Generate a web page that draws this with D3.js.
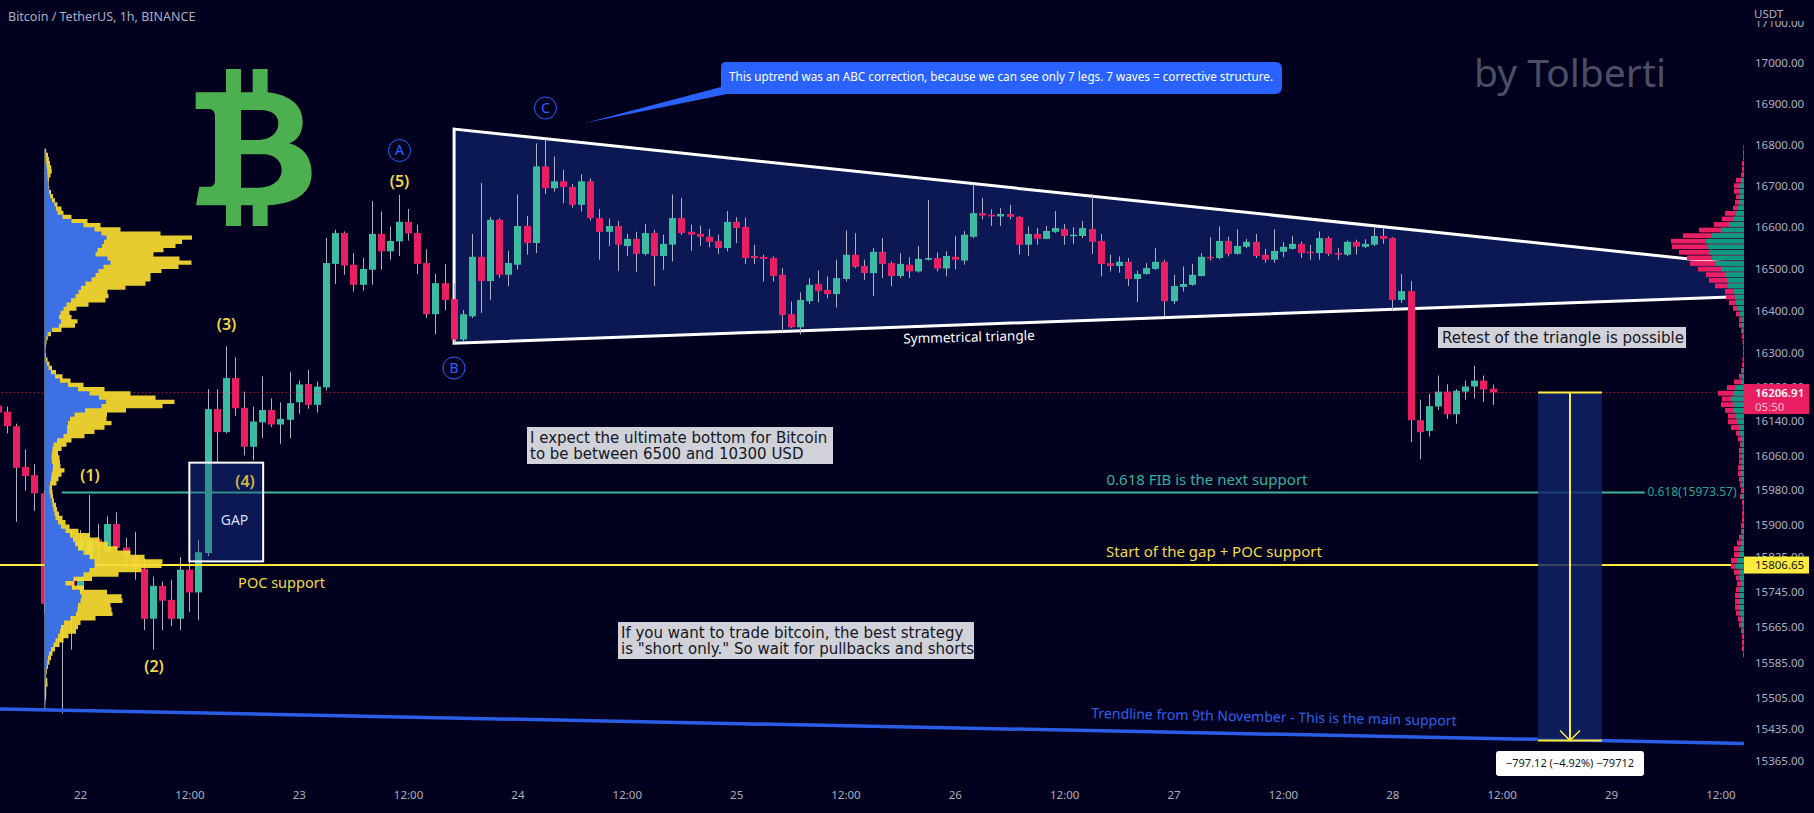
<!DOCTYPE html>
<html lang="en">
<head>
    <meta charset="utf-8">
    <title>Bitcoin / TetherUS 1h</title>
    <script src="https://d3js.org/d3.v7.min.js"></script>
    <style>
        html, body { margin: 0; padding: 0; background: #01011f; overflow: hidden; }
        text { font-family: "Noto Sans", sans-serif; }
    </style>
</head>
<body>
    <div id="chart-container"></div>

    <script>
        // hourly candles, hour 0 = the 22nd 00:00
        const candleHours = d3.range(-9, 156);
        const opens = [
            16176,16162,16128,16033,16014,15972,15721,15725,15871,15748,15806,15865,15837,
            15901,15847,15825,15798,15684,15759,15727,15684,15796,15744,15834,16168,16114,
            16241,16171,16080,16137,16166,16132,16143,16184,16227,16178,16219,16512,16586,
            16510,16462,16498,16584,16542,16566,16613,16586,16514,16392,16466,16428,16332,
            16387,16529,16471,16618,16486,16510,16603,16562,16747,16694,16711,16697,16654,
            16711,16622,16589,16603,16555,16572,16536,16586,16531,16558,16622,16589,16584,
            16577,16567,16550,16613,16601,16531,16529,16526,16486,16392,16361,16423,16464,
            16450,16440,16476,16534,16507,16490,16541,16514,16483,16510,16494,16522,16526,
            16501,16529,16520,16577,16634,16630,16626,16632,16625,16558,16584,16572,16589,
            16596,16579,16579,16596,16567,16514,16507,16517,16476,16488,16500,16517,16423,
            16457,16462,16483,16529,16526,16567,16536,16553,16565,16534,16522,16541,16548,
            16560,16541,16538,16574,16538,16534,16565,16553,16558,16579,16574,16426,16447,
            16142,16117,16174,16209,16156,16209,16221,16235,16216
        ];
        const highs = [
            16188,16174,16134,16074,16040,15979,15817,15871,15887,15887,15968,15901,15919,
            15928,15869,15883,15822,15780,15769,15773,15825,15813,15864,16215,16215,16316,
            16290,16209,16174,16245,16193,16184,16255,16235,16260,16233,16574,16594,16590,
            16538,16526,16663,16638,16602,16678,16644,16606,16547,16488,16511,16466,16402,
            16584,16707,16625,16622,16543,16679,16627,16803,16813,16771,16739,16704,16728,
            16718,16644,16621,16615,16584,16589,16608,16594,16582,16679,16671,16606,16604,
            16596,16582,16639,16624,16623,16558,16534,16530,16502,16422,16444,16478,16496,
            16482,16522,16592,16586,16522,16550,16574,16518,16538,16528,16555,16666,16539,
            16542,16579,16591,16702,16671,16643,16646,16654,16627,16602,16598,16603,16639,
            16608,16600,16615,16680,16584,16534,16530,16526,16496,16514,16550,16522,16486,
            16506,16512,16538,16576,16602,16577,16595,16572,16584,16548,16595,16564,16579,
            16566,16558,16590,16578,16550,16568,16570,16571,16598,16598,16576,16488,16471,
            16190,16204,16247,16226,16215,16235,16270,16247,16226
        ];
        const lows = [
            16141,16111,15906,15978,15931,15697,15632,15470,15614,15725,15783,15803,15833,
            15840,15802,15773,15658,15614,15658,15667,15658,15699,15681,15827,16044,16111,
            16152,16060,16049,16100,16126,16087,16100,16157,16169,16160,16212,16464,16486,
            16446,16448,16462,16498,16522,16531,16568,16487,16383,16344,16402,16323,16328,
            16383,16395,16426,16479,16459,16498,16534,16538,16680,16686,16658,16647,16638,
            16616,16522,16555,16495,16531,16493,16532,16459,16498,16518,16582,16543,16555,
            16552,16536,16542,16562,16512,16512,16470,16470,16350,16359,16344,16416,16420,
            16430,16408,16470,16502,16474,16435,16478,16459,16478,16478,16491,16520,16494,
            16482,16499,16510,16574,16619,16603,16603,16619,16534,16531,16558,16571,16586,
            16558,16560,16574,16536,16482,16494,16491,16459,16421,16486,16498,16387,16416,
            16446,16460,16482,16520,16523,16530,16534,16550,16526,16515,16515,16528,16546,
            16526,16522,16522,16531,16522,16531,16534,16550,16555,16560,16402,16419,16091,
            16051,16104,16166,16145,16134,16190,16193,16185,16178
        ];
        const closes = [
            16160,16128,16031,16012,15972,15718,15802,15794,15736,15864,15864,15850,15901,
            15846,15829,15802,15684,15759,15725,15684,15796,15744,15836,16168,16114,16241,
            16170,16080,16139,16166,16132,16145,16182,16226,16178,16221,16514,16586,16508,
            16462,16500,16584,16542,16567,16613,16585,16512,16392,16466,16426,16332,16392,
            16529,16471,16618,16486,16514,16603,16562,16747,16694,16711,16697,16654,16711,
            16622,16589,16603,16558,16572,16536,16586,16531,16560,16622,16586,16582,16577,
            16565,16550,16613,16598,16526,16526,16524,16483,16390,16361,16426,16462,16447,
            16440,16478,16534,16505,16490,16541,16512,16483,16512,16494,16524,16526,16501,
            16531,16522,16582,16634,16628,16626,16632,16625,16558,16584,16572,16591,16598,
            16579,16582,16598,16565,16512,16507,16517,16476,16488,16502,16517,16423,16459,
            16464,16486,16529,16526,16567,16536,16555,16565,16531,16522,16543,16553,16560,
            16538,16538,16574,16536,16534,16565,16553,16560,16579,16572,16426,16447,16142,
            16114,16175,16209,16156,16211,16221,16235,16214,16207
        ];

        // left volume profile, one row every 10 USD from 16790 down
        const profilePrices = d3.range(16790, 15470, -10);
        const profileTotal = [
            0.5,3,4,5,6,7.5,7,5,4,4.5,5,8,9,12,14,20,18,36,50,62,90,142,153,122,140,98,120,150,144,124,110,102,110,
            92,70,56,72,50,38,26,24,30,36,25,9,4,2.5,1.5,1,1,2,4,6,9,14,22,30,48,72,100,122,138,98,65,60,64,70,50,50,
            30,24,20,14,13,17,14,18,22,12,16,8,7,9,8,11,12,13,16,20,22,28,40,50,60,66,80,92,108,128,106,88,60,35,24,
            55,70,84,72,60,74,62,40,32,35,28,20,18,12,9,7,6,4,3,2,1.5,4,2,1.5,2,1,1,0.5
        ];
        const profileUp = [
            0.3,1,1,1.5,2,2.5,3,3,3.5,4,4,5,6,9,11,12,14,22,32,46,54,60,64,55,60,46,56,70,62,56,52,50,44,
            38,35,33,29,24,20,18,14,15,18,11,4,2,1.5,0.5,0.5,0.5,1,1.5,3,5,8,13,18,29,38,52,57,66,48,33,27,24,23,22,23,
            15,10,8,8,7,7,8,9,7,7,6,5,5,5,7,8,8,10,10,12,15,18,24,27,30,31,36,42,48,52,48,42,36,22,20,
            35,36,38,34,33,33,30,22,17,16,15,12,10,8,5,4,3,2.5,2,1.5,1,1,0.5,0.5,0.5,0.5,0.5,0.3
        ];

        // right volume profile rows, top to bottom
        const rowTotal = [
            0.5,1,1,2,2,3,8,10,10,8,9,11,19,22,30,45,61,73,72,65,57,54,46,38,35,29,19,18,15,11,8,5,5,3,2,1.5,1,1,1.5,2,3,5,10,17,26,
            22,23,19,16,16,13,8,6,4,5,5,5,6,6,5,4,3,4,2,1.5,2,2,3,3,5,7,10,10,13,13,10,8,7,8,9,9,9,8,6,5,3,2,2,2,1
        ];
        const rowUp = [
            0.3,0.5,0.5,1,1,1,3,4,5,4,5,6,8,11,15,23,32,38,36,35,32,28,23,19,17,16,10,9,8,6,4,2,2,1.5,1,0.5,0.5,0.5,0.5,1,1.5,2,3,8,10,
            13,11,10,8,7,5,4,3,2,2,2,2,3,3,2,2,1,2,1,0.7,1,1,1,1.5,2,3,4,5,6,8,5,4,3,4,4,4.5,4.5,4,3,2,1.5,1,1,1,0.5
        ];

        const priceTicks = [17100,17000,16900,16800,16700,16600,16500,16400,16300,16220,16140,16060,15980,15900,15825,15745,15665,15585,15505,15435,15365];
        const timeTicks = [0,12,24,36,48,60,72,84,96,108,120,132,144,156,168,180];
        const timeLabels = ['22','12:00','23','12:00','24','12:00','25','12:00','26','12:00','27','12:00','28','12:00','29','12:00'];

        // drawings, in hours and prices
        const lastPrice = 16206.91;
        const pocPrice = 15806.65;
        const fibPrice = 15973.57;
        const measureLowPrice = 15409.79;
        const measureHours = [160, 167];
        const triangleHours = [41.05, 182.6, 182.6, 41.05];
        const trianglePrices = [16838, 16510, 16434, 16323];
        const trendHours = [-8.8, 182.6];
        const trendPrices = [15480, 15403];
        const gapHours = [12, 20.1];
        const gapPrices = [16043, 15815];

        const width = 1814;
        const height = 813;
        const chartRight = 1744;

        const upColour = '#3cbba3';
        const downColour = '#e91e63';
        const wickColour = '#aeaec2';
        const yellow = '#ffeb3b';
        const labelYellow = '#f2d94a';
        const blue = '#2962ff';
        const navy = '#0c1853';

        const xScale = d3.scaleLinear().domain([0, 168]).range([80, 1611]);
        const yScale = d3.scaleLog().domain([15365, 17000]).range([760.5, 63]);
        const profileX = d3.scaleLinear().domain([0, 150]).range([44.5, 194.5]);
        const rowX = d3.scaleLinear().domain([0, 100]).range([chartRight, chartRight - 100]);

        const svg = d3.select('#chart-container')
            .append('svg')
            .attr('width', width)
            .attr('height', height)
            .style('display', 'block')
            .style('background', '#01011f');

        // triangle under the candles
        svg.append('path')
            .attr('d', d3.line()(triangleHours.map((h, i) => [xScale(h), yScale(trianglePrices[i])])) + 'Z')
            .attr('fill', navy);
        svg.append('path')
            .attr('d', d3.line()([
                [xScale(triangleHours[1]), yScale(trianglePrices[1])],
                [xScale(triangleHours[0]), yScale(trianglePrices[0])],
                [xScale(triangleHours[3]), yScale(trianglePrices[3])],
                [xScale(triangleHours[2]), yScale(trianglePrices[2])]
            ]))
            .attr('fill', 'none')
            .attr('stroke', 'white')
            .attr('stroke-width', 3);

        // GAP box fill, the outline comes later
        const gapRect = () => svg.append('rect')
            .attr('x', xScale(gapHours[0]))
            .attr('width', xScale(gapHours[1]) - xScale(gapHours[0]))
            .attr('y', yScale(gapPrices[0]))
            .attr('height', yScale(gapPrices[1]) - yScale(gapPrices[0]));
        gapRect().attr('fill', navy);

        // candles
        const candles = candleHours.map((h, i) => ({ h, o: opens[i], hi: highs[i], lo: lows[i], c: closes[i] }));
        const candleGroup = svg.append('g').attr('id', 'candles');
        candleGroup.selectAll('line')
            .data(candles)
            .enter()
            .append('line')
            .attr('x1', d => Math.round(xScale(d.h)) + 0.5)
            .attr('x2', d => Math.round(xScale(d.h)) + 0.5)
            .attr('y1', d => yScale(d.hi))
            .attr('y2', d => yScale(d.lo))
            .attr('stroke', wickColour)
            .attr('stroke-width', 1);
        candleGroup.selectAll('rect')
            .data(candles)
            .enter()
            .append('rect')
            .attr('x', d => Math.round(xScale(d.h)) - 3)
            .attr('width', 7)
            .attr('y', d => yScale(Math.max(d.o, d.c)))
            .attr('height', d => Math.max(1.5, Math.abs(yScale(d.o) - yScale(d.c))))
            .attr('fill', d => d.c >= d.o ? upColour : downColour);

        // horizontal lines
        const hLine = (h0, h1, p0, p1, colour, w) => svg.append('line')
            .attr('x1', xScale(h0)).attr('x2', xScale(h1))
            .attr('y1', yScale(p0)).attr('y2', yScale(p1))
            .attr('stroke', colour)
            .attr('stroke-width', w);

        hLine(-9, 182.6, lastPrice, lastPrice, downColour, 1).attr('stroke-dasharray', '1 3').attr('opacity', 0.7);
        hLine(-2, 171.7, fibPrice, fibPrice, '#3fb5a0', 2);
        hLine(-9, 182.6, pocPrice, pocPrice, yellow, 2);
        hLine(trendHours[0], trendHours[1], trendPrices[0], trendPrices[1], '#2b5ce6', 3.5);

        // left profile
        const profileArea = values => d3.area()
            .curve(d3.curveStep)
            .x0(profileX(0))
            .x1((d, i) => profileX(values[i]))
            .y(d => yScale(d));
        svg.append('path')
            .attr('d', profileArea(profileTotal)(profilePrices))
            .attr('fill', '#f7dc30')
            .attr('opacity', 0.93);
        svg.append('path')
            .attr('d', profileArea(profileUp)(profilePrices))
            .attr('fill', '#2f68f2')
            .attr('opacity', 0.93);

        // right profile
        const rowStep = 13.38;
        const rowPrices = rowTotal.map((_, i) => 16793 - i * rowStep);
        const rowGroup = svg.append('g').attr('id', 'visible-range');
        const rowY = d => yScale(d + rowStep / 2);
        const rowH = d => yScale(d - rowStep / 2) - yScale(d + rowStep / 2) - 0.8;
        rowGroup.selectAll('rect.total')
            .data(rowPrices)
            .enter()
            .append('rect')
            .attr('class', 'total')
            .attr('x', (d, i) => rowX(rowTotal[i]))
            .attr('width', (d, i) => chartRight - rowX(rowTotal[i]))
            .attr('y', rowY)
            .attr('height', rowH)
            .attr('fill', downColour);
        rowGroup.selectAll('rect.up')
            .data(rowPrices)
            .enter()
            .append('rect')
            .attr('class', 'up')
            .attr('x', (d, i) => rowX(rowUp[i]))
            .attr('width', (d, i) => chartRight - rowX(rowUp[i]))
            .attr('y', rowY)
            .attr('height', rowH)
            .attr('fill', '#0d9a83');

        // measure box
        svg.append('rect')
            .attr('x', xScale(measureHours[0]))
            .attr('width', xScale(measureHours[1]) - xScale(measureHours[0]))
            .attr('y', yScale(lastPrice))
            .attr('height', yScale(measureLowPrice) - yScale(lastPrice))
            .attr('fill', '#10236a')
            .attr('opacity', 0.82);
        [lastPrice, measureLowPrice].forEach(p => {
            hLine(measureHours[0], measureHours[1], p, p, yellow, 2);
        });
        const midHour = d3.mean(measureHours);
        hLine(midHour, midHour, lastPrice, measureLowPrice, yellow, 2);
        const tipX = xScale(midHour);
        const tipY = yScale(measureLowPrice);
        svg.append('path')
            .attr('d', `M${tipX - 10},${tipY - 10}L${tipX},${tipY}L${tipX + 10},${tipY - 10}`)
            .attr('fill', 'none')
            .attr('stroke', yellow)
            .attr('stroke-width', 1.5);

        // GAP box tint and outline
        gapRect()
            .attr('fill', navy)
            .attr('fill-opacity', 0.25)
            .attr('stroke', 'white')
            .attr('stroke-width', 2);

        // bitcoin logo
        svg.append('path')
            .attr('transform', 'translate(180,60) scale(0.3333)')
            .attr('fill', '#4caf50')
            .attr('fill-rule', 'evenodd')
            .attr('d', 'M138,27L183,27L183,97L218,97L218,27L263,27L263,97C330,105 368,135 368,185C368,220 352,240 328,250C372,262 395,295 395,340C395,400 345,432 263,436L263,498L218,498L218,436L183,436L183,498L138,498L138,436L48,436L58,380L88,380C100,380 105,372 105,362L105,170C105,155 98,147 85,147L47,147L47,97L138,97Z' +
                'M183,150L240,150C275,150 295,165 295,190C295,220 270,240 235,240L183,240Z' +
                'M183,283L250,283C285,283 305,305 305,330C305,365 270,383 235,383L183,383Z');

        // plain labels
        const label = (x, y, str, colour, size, extra) => {
            const t = svg.append('text')
                .attr('x', x)
                .attr('y', y)
                .attr('dy', '0.35em')
                .attr('text-anchor', 'middle')
                .attr('fill', colour)
                .style('font-size', size + 'px')
                .text(str);
            if (extra) extra(t);
            return t;
        };

        const semibold = t => t.style('font-weight', 600);
        label(90, 475, '(1)', labelYellow, 16, semibold);
        label(154, 666, '(2)', labelYellow, 16, semibold);
        label(226.5, 324, '(3)', labelYellow, 16, semibold);
        label(245, 481.5, '(4)', '#c9b94a', 16, semibold);
        label(399.5, 181.5, '(5)', labelYellow, 16, semibold);
        label(234.5, 520, 'GAP', '#d6dbf5', 14);
        label(281.5, 583, 'POC support', labelYellow, 14.5);
        label(1207, 480, '0.618 FIB is the next support', '#35b39c', 15);
        label(1214, 552, 'Start of the gap + POC support', labelYellow, 15);
        label(1692, 492, '0.618(15973.57)', '#2fa58f', 12);
        label(969, 337, 'Symmetrical triangle', 'white', 13.5, t => t.attr('transform', 'rotate(-1.5 969 337)'));
        label(1274, 717, 'Trendline from 9th November - This is the main support', '#2f62e8', 14, t => t.attr('transform', 'rotate(1.2 1274 717)'));
        label(1570, 73, 'by Tolberti', '#4d4d66', 39);

        // wave circles
        [['A', 399.5, 150.5], ['B', 454, 368], ['C', 545.5, 108]].forEach(c => {
            svg.append('circle')
                .attr('cx', c[1]).attr('cy', c[2]).attr('r', 11)
                .attr('fill', 'none').attr('stroke', blue).attr('stroke-width', 1);
            label(c[1], c[2], c[0], blue, 14);
        });

        // grey note boxes
        const note = (x0, x1, y0, y1, lines, tx, size) => {
            svg.append('rect')
                .attr('x', x0).attr('width', x1 - x0)
                .attr('y', y0).attr('height', y1 - y0)
                .attr('fill', '#d1d1da');
            lines.forEach((l, i) => {
                svg.append('text')
                    .attr('x', tx)
                    .attr('y', y0 + 10.5 + i * 16)
                    .attr('dy', '0.35em')
                    .attr('fill', '#131722')
                    .style('font-family', '"DejaVu Sans", sans-serif')
                    .style('font-size', size + 'px')
                    .text(l);
            });
        };
        note(527, 833, 427, 464, ['I expect the ultimate bottom for Bitcoin', 'to be between 6500 and 10300 USD'], 530, 15);
        note(618, 974, 622, 659, ['If you want to trade bitcoin, the best strategy', 'is "short only." So wait for pullbacks and shorts'], 621, 15);
        note(1438, 1686, 327, 348, ['Retest of the triangle is possible'], 1442, 15);

        // callout
        svg.append('path')
            .attr('d', 'M726,62L1275,62Q1282,62 1282,69L1282,87Q1282,94 1275,94L727,94L585,123L721,87L721,67Q721,62 726,62Z')
            .attr('fill', blue);
        label(1001, 77, 'This uptrend was an ABC correction, because we can see only 7 legs. 7 waves = corrective structure.', 'white', 11.7);

        // measure label
        svg.append('rect')
            .attr('x', 1496).attr('y', 751)
            .attr('width', 148).attr('height', 25)
            .attr('rx', 3)
            .attr('fill', 'white');
        label(1570, 763.5, '\u2212797.12 (\u22124.92%) \u221279712', '#131722', 11);

        // axes
        const axisColour = '#adb0bd';
        const yAxisGroup = svg.append('g')
            .attr('transform', `translate(${chartRight + 11},0)`)
            .call(d3.axisRight(yScale).tickValues(priceTicks).tickFormat(d3.format('.2f')).tickSize(0).tickPadding(0));
        yAxisGroup.select('.domain').remove();
        yAxisGroup.selectAll('text')
            .attr('fill', axisColour)
            .style('font-size', '11.5px')
            .style('font-family', '"Noto Sans", sans-serif');

        const xAxisGroup = svg.append('g')
            .attr('transform', 'translate(0,788)')
            .call(d3.axisBottom(xScale).tickValues(timeTicks).tickFormat((d, i) => timeLabels[i]).tickSize(0).tickPadding(3));
        xAxisGroup.select('.domain').remove();
        xAxisGroup.selectAll('text')
            .attr('fill', axisColour)
            .style('font-size', '11.5px')
            .style('font-family', '"Noto Sans", sans-serif');

        // title and the axis header
        svg.append('text')
            .attr('x', 8).attr('y', 16.5).attr('dy', '0.35em')
            .attr('fill', '#a9adc4')
            .style('font-size', '12.5px')
            .text('Bitcoin / TetherUS, 1h, BINANCE');
        svg.append('rect').attr('x', chartRight + 2).attr('y', 0).attr('width', 68).attr('height', 21).attr('fill', '#01011f');
        svg.append('text')
            .attr('x', chartRight + 10).attr('y', 13.5).attr('dy', '0.35em')
            .attr('fill', axisColour)
            .style('font-size', '11.5px')
            .text('USDT');

        // last price and POC tags
        svg.append('rect').attr('x', chartRight).attr('y', yScale(lastPrice) - 8.5).attr('width', 65).attr('height', 30).attr('fill', '#ea1f63');
        svg.append('text')
            .attr('x', chartRight + 11).attr('y', yScale(lastPrice)).attr('dy', '0.35em')
            .attr('fill', 'white').style('font-size', '11.5px').style('font-weight', 600)
            .text(d3.format('.2f')(lastPrice));
        svg.append('text')
            .attr('x', chartRight + 11).attr('y', yScale(lastPrice) + 14).attr('dy', '0.35em')
            .attr('fill', '#f7bcd0').style('font-size', '11.5px')
            .text('05:50');
        svg.append('rect').attr('x', chartRight).attr('y', yScale(pocPrice) - 8.5).attr('width', 65).attr('height', 17).attr('fill', '#ffeb3b');
        svg.append('text')
            .attr('x', chartRight + 11).attr('y', yScale(pocPrice)).attr('dy', '0.35em')
            .attr('fill', '#131722').style('font-size', '11.5px')
            .text(d3.format('.2f')(pocPrice));
    </script>
</body>
</html>
